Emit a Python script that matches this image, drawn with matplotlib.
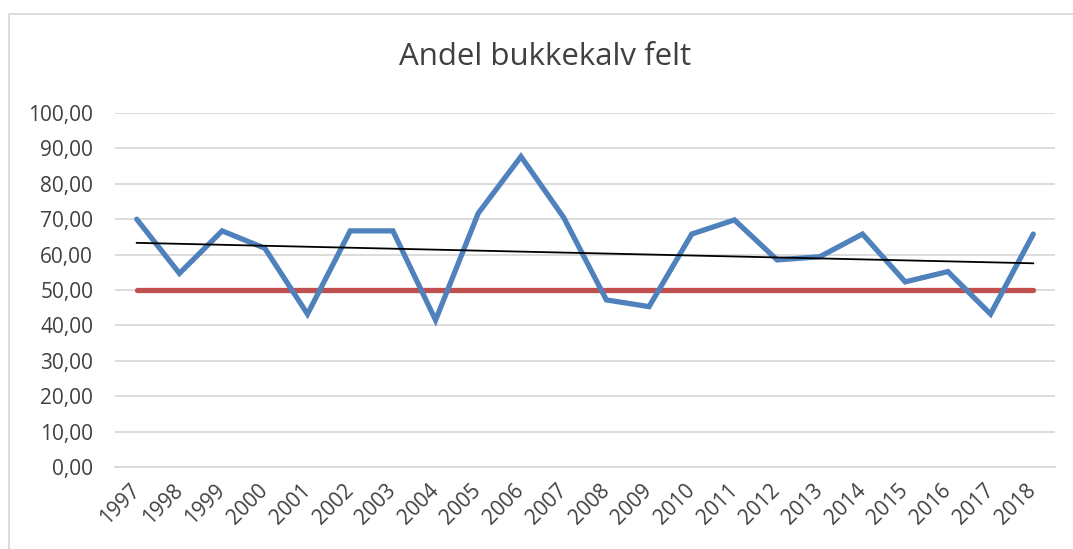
import numpy as np
import matplotlib.pyplot as plt
from matplotlib.lines import Line2D

years = [str(y) for y in range(1997, 2019)]
andel = [70.0, 54.7, 66.7, 61.8, 43.2, 66.7, 66.7, 41.5, 71.7, 87.7, 70.5,
         47.2, 45.3, 65.8, 69.8, 58.5, 59.4, 65.8, 52.3, 55.2, 43.2, 65.8]
referanse = [50.0] * len(years)

plt.rcParams['font.family'] = ['Open Sans', 'DejaVu Sans']

fig = plt.figure(figsize=(10.73, 5.49), dpi=100)
ax = fig.add_axes([115.4 / 1073, 1 - 467 / 549, (1054.6 - 115.4) / 1073, (467 - 113) / 549])

x = np.arange(len(years))
ax.plot(x, referanse, color='#c0504d', lw=3.8, solid_capstyle='round', zorder=3)
ax.plot(x, andel, color='#4f81bd', lw=3.8, solid_joinstyle='miter', solid_capstyle='round', zorder=4)

# linear trend line, as in the spreadsheet
k, m = np.polyfit(x, andel, 1)
ax.plot(x, k * x + m, color='black', lw=1.3, zorder=5)

ax.set_xlim(-0.5, len(years) - 0.5)
ax.set_ylim(0, 100)
ax.set_yticks(np.arange(0, 101, 10))
ax.set_yticklabels([f'{v:.2f}'.replace('.', ',') for v in np.arange(0, 101, 10)])
ax.set_xticks(x)
ax.set_xticklabels(years, rotation=45, ha='right', va='center', rotation_mode='anchor')

ax.grid(axis='y', color='#d9d9d9', lw=1.3)
ax.set_axisbelow(True)
for s in ['top', 'right', 'left']:
    ax.spines[s].set_visible(False)
ax.spines['bottom'].set_color('#d9d9d9')
ax.spines['bottom'].set_linewidth(1.3)
ax.tick_params(axis='y', length=0, pad=16, labelsize=15, labelcolor='#404040')
ax.tick_params(axis='x', length=0, pad=15, labelsize=15, labelcolor='#404040')

fig.text(545 / 1073, 1 - 57 / 549, 'Andel bukkekalv felt', ha='center', va='center',
         fontsize=22.5, color='#404040')

# chart frame
fig.add_artist(Line2D([8.5 / 1073, 8.5 / 1073, 1], [0, 1 - 14 / 549, 1 - 14 / 549],
                      transform=fig.transFigure, color='#d9d9d9', lw=1.3))

fig.savefig('out.png', dpi=100)
